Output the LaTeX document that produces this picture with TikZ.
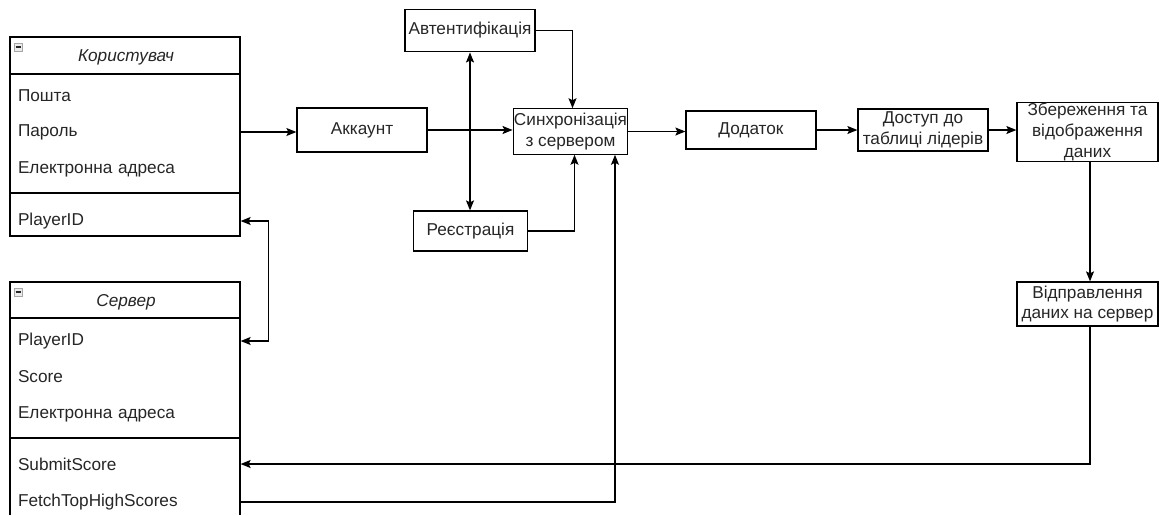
\documentclass[tikz,border=0pt]{standalone}
\usepackage{fontspec}
\setmainfont{Liberation Sans}
\usetikzlibrary{arrows.meta, positioning, calc}

\tikzset{
  blockbox/.style={draw, rectangle, align=center, inner sep=0.5pt, text=black!85, font=\fontsize{12.9}{15.5}\selectfont},
  attr/.style={text width=160.5pt, align=left, inner xsep=6pt, inner ysep=0pt, text=black!85, font=\fontsize{12.9}{15.5}\selectfont},
  classhead/.style={text=black!85, font=\fontsize{12.9}{15.5}\selectfont\itshape},
  flow/.style={-{Stealth[length=7.5pt,width=6pt,inset=1.5pt]}},
  twoway/.style={{Stealth[length=7.5pt,width=6pt,inset=1.5pt]}-{Stealth[length=7.5pt,width=6pt,inset=1.5pt]}},
  foldicon/.style={draw=gray!70, fill=blue!6!gray!15, line width=0.6pt}
}

\begin{document}
\begin{tikzpicture}[x=0.75pt, y=-0.75pt, line width=0.95pt]
\useasboundingbox (0,0) rectangle (1159,515);

% Class Користувач
\draw (10,37) rectangle (240,236);
\draw (10,74) -- (240,74);
\draw (10,193) -- (240,193);
\draw[foldicon] (14,43) rectangle (22,51);
\draw[gray!30!black, line width=0.9pt] (15.5,47) -- (20.5,47);
\node[classhead] (userhead) at (126,57) {Користувач};
\node[attr] (umail) at (125,96) {Пошта};
\node[attr] (upass) at (125,132) {Пароль};
\node[attr] (uaddr) at (125,169) {Електронна адреса};
\node[attr] (uid) at (125,221) {PlayerID};

% Class Сервер (cut at the bottom)
\draw (10,515) -- (10,282) -- (240,282) -- (240,515);
\draw (10,318) -- (240,318);
\draw (10,438) -- (240,438);
\draw[foldicon] (14,288) rectangle (22,296);
\draw[gray!30!black, line width=0.9pt] (15.5,292) -- (20.5,292);
\node[classhead] (servhead) at (126,302) {Сервер};
\node[attr] (sid) at (125,341) {PlayerID};
\node[attr] (sscore) at (125,377) {Score};
\node[attr] (saddr) at (125,414) {Електронна адреса};
\node[attr] (ssubmit) at (125,464) {SubmitScore};
\node[attr] (sfetch) at (125,502) {FetchTopHighScores};

% Process blocks
\node[blockbox, minimum width=97.5pt, minimum height=33pt] (akk) at (362,130) {Аккаунт};
\node[blockbox, minimum width=97.5pt, minimum height=32pt] (auth) at (470,30.5) {Автентифікація};
\node[blockbox, minimum width=86pt, minimum height=30pt] (reg) at (470.5,231) {Реєстрація};
\node[blockbox, minimum width=86pt, minimum height=34pt] (sync) at (570.5,131.5) {Синхронізація\\з сервером};
\node[blockbox, minimum width=97.5pt, minimum height=28.5pt] (app) at (751,130) {Додаток};
\node[blockbox, minimum width=97.5pt, minimum height=31.5pt] (lead) at (923,130) {Доступ до\\таблиці лідерів};
\node[blockbox, minimum width=105.75pt, minimum height=43.5pt] (store) at (1087.5,132) {Збереження та\\відображення\\даних};
\node[blockbox, minimum width=105.75pt, minimum height=33pt] (send) at (1087.5,304) {Відправлення\\даних на сервер};

% Connectors
\draw[flow] (upass.east) -- (upass.east -| akk.west);
\draw[flow] (akk.east) -- (akk.east -| sync.west);
\draw[twoway] (auth.south) -- (auth.south |- reg.north);
\draw[flow] (auth.east) -| ($(sync.north)+(2,0)$);
\draw[flow] (reg.east) -| ($(sync.south)+(4,0)$);
\draw[flow] (sfetch.east) -| ($(sync.south)+(44.5,0)$);
\draw[flow] (sync.east) -- (sync.east -| app.west);
\draw[flow] (app.east) -- (app.east -| lead.west);
\draw[flow] (lead.east) -- (lead.east -| store.west);
\draw[flow] ($(store.south)+(2.5,0)$) -- ($(send.north)+(2.5,0)$);
\draw[flow] ($(send.south)+(2.5,0)$) |- (ssubmit.east);
\draw[twoway] (uid.east) -- ++(28,0) |- (sid.east);
\end{tikzpicture}
\end{document}
